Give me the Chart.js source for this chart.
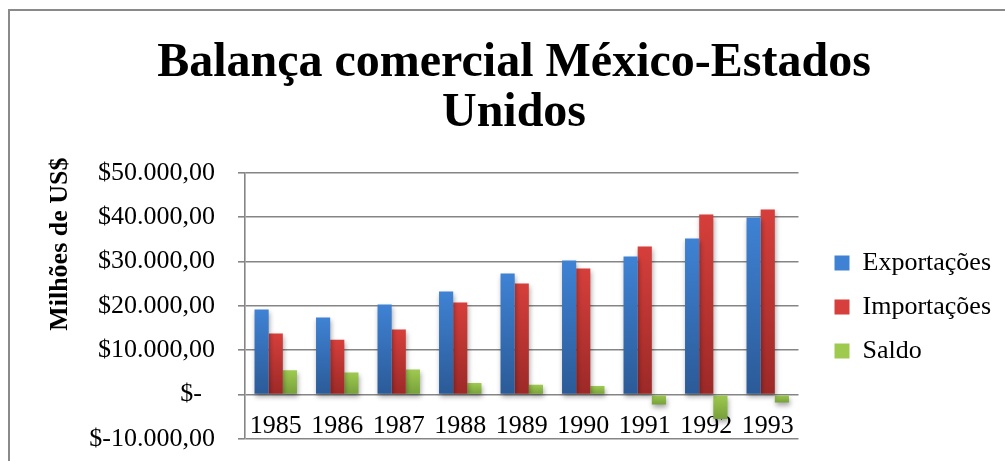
<!DOCTYPE html>
<html>
<head>
<meta charset="utf-8">
<script src="https://cdn.jsdelivr.net/npm/chart.js@4.4.1/dist/chart.umd.min.js"></script>
<style>
  html, body { margin: 0; padding: 0; background: #fff; overflow: hidden; }
  #frame { position: absolute; left: 8px; top: 9px; width: 1100px; height: 600px;
           border-left: 2px solid #8a8a8a; border-top: 2px solid #8a8a8a; }
  #c { position: absolute; left: 0; top: 0; }
</style>
</head>
<body>
<div id="frame"></div>
<canvas id="c" width="1005" height="461"></canvas>
<script>
// valores (milhões de US$)
const years = ['1985', '1986', '1987', '1988', '1989', '1990', '1991', '1992', '1993']
const exportacoes = [19190, 17380, 20300, 23250, 27310, 30250, 31150, 35200, 39950]
const importacoes = [13770, 12400, 14670, 20770, 25060, 28440, 33400, 40630, 41760]
const saldo = [5500, 4980, 5640, 2600, 2250, 1950, -2250, -5500, -1800]

const yMin = -10000
const yMax = 50000
const yStep = 10000

const serif = "'Liberation Serif', 'Times New Roman', serif"

// cores (topo, base) do degradê de cada série
const blue = ['#3f82d4', '#2b5a97']
const red = ['#d63f3b', '#9c2927']
const green = ['#9fca50', '#76a03a']

function barGradient(colors) {
  return function (ctx) {
    const chart = ctx.chart
    if (!chart.chartArea || ctx.type !== 'data') return colors[1]
    const y = chart.scales.y
    const p1 = y.getPixelForValue(ctx.raw)
    const p0 = y.getPixelForValue(0)
    const g = chart.ctx.createLinearGradient(0, Math.min(p0, p1), 0, Math.max(p0, p1))
    g.addColorStop(0, colors[0])
    g.addColorStop(1, colors[1])
    return g
  }
}

function money(v) {
  if (v === 0) return '$-\u00a0\u00a0'
  const s = String(Math.abs(v)).replace(/\B(?=(\d{3})+(?!\d))/g, '.')
  return '$' + (v < 0 ? '-' : '') + s + ',00'
}

// sombra leve por baixo das barras, como no Excel
const barShadow = {
  id: 'barShadow',
  beforeDatasetsDraw(chart) {
    const c = chart.ctx
    c.save()
    c.shadowColor = 'rgba(0,0,0,0.35)'
    c.shadowBlur = 5
    c.shadowOffsetX = 1
    c.shadowOffsetY = 3
  },
  afterDatasetsDraw(chart) {
    chart.ctx.restore()
  }
}

// legenda ao lado, centrada na altura do gráfico
const legendShift = {
  id: 'legendShift',
  afterLayout(chart) {
    const lg = chart.legend
    if (!lg) return
    lg.left += 18
    lg.right += 18
    lg.top = 232
    lg.bottom = 382
  }
}

Chart.defaults.font.family = serif
Chart.defaults.color = '#000'

const chart = new Chart(document.getElementById('c'), {
  type: 'bar',
  data: {
    labels: years,
    datasets: [
      { label: 'Exportações', data: exportacoes, backgroundColor: barGradient(blue) },
      { label: 'Importações', data: importacoes, backgroundColor: barGradient(red) },
      { label: 'Saldo', data: saldo, backgroundColor: barGradient(green) }
    ]
  },
  options: {
    responsive: false,
    animation: false,
    devicePixelRatio: 1,
    layout: { padding: { left: 45, right: 22, top: 0, bottom: 22 } },
    datasets: {
      bar: { categoryPercentage: 0.69, barPercentage: 1, borderWidth: 0 }
    },
    plugins: {
      title: {
        display: true,
        text: ['Balança comercial México-Estados', 'Unidos'],
        font: { family: serif, size: 48, weight: 'bold', lineHeight: 1.04 },
        color: '#000',
        padding: { top: 39, bottom: 34 }
      },
      legend: {
        position: 'right',
        labels: {
          font: { family: serif, size: 26 },
          color: '#000',
          boxWidth: 15,
          boxHeight: 15,
          padding: 18,
          generateLabels(chart) {
            const items = Chart.defaults.plugins.legend.labels.generateLabels(chart)
            const solid = [blue, red, green]
            items.forEach((it, i) => {
              it.fillStyle = solid[i][0]
              it.strokeStyle = solid[i][1]
              it.lineWidth = 0
            })
            return items
          }
        }
      },
      tooltip: { enabled: false }
    },
    scales: {
      x: {
        position: { y: 0 },
        grid: { display: false, drawTicks: false },
        border: { display: false },
        ticks: { font: { family: serif, size: 26 }, color: '#000', padding: 16, maxRotation: 0 },
        afterFit(scale) { scale.height = 0 }
      },
      y: {
        min: yMin,
        max: yMax,
        ticks: {
          stepSize: yStep,
          font: { family: serif, size: 26 },
          color: '#000',
          padding: 23,
          callback: v => money(v)
        },
        grid: { color: '#858585', lineWidth: 1.6, tickLength: 7, drawTicks: true },
        border: { display: true, color: '#858585', width: 1.6 },
        title: {
          display: true,
          text: '\u00a0'.repeat(19) + 'Milhões de US$',
          font: { family: serif, size: 26, weight: 'bold' },
          color: '#000',
          padding: { top: 0, bottom: 0 }
        },
        afterFit(scale) {
          scale.width = 200
          scale.paddingTop = 0
          scale.paddingBottom = 0
        }
      }
    }
  },
  plugins: [barShadow, legendShift]
})
</script>
</body>
</html>
